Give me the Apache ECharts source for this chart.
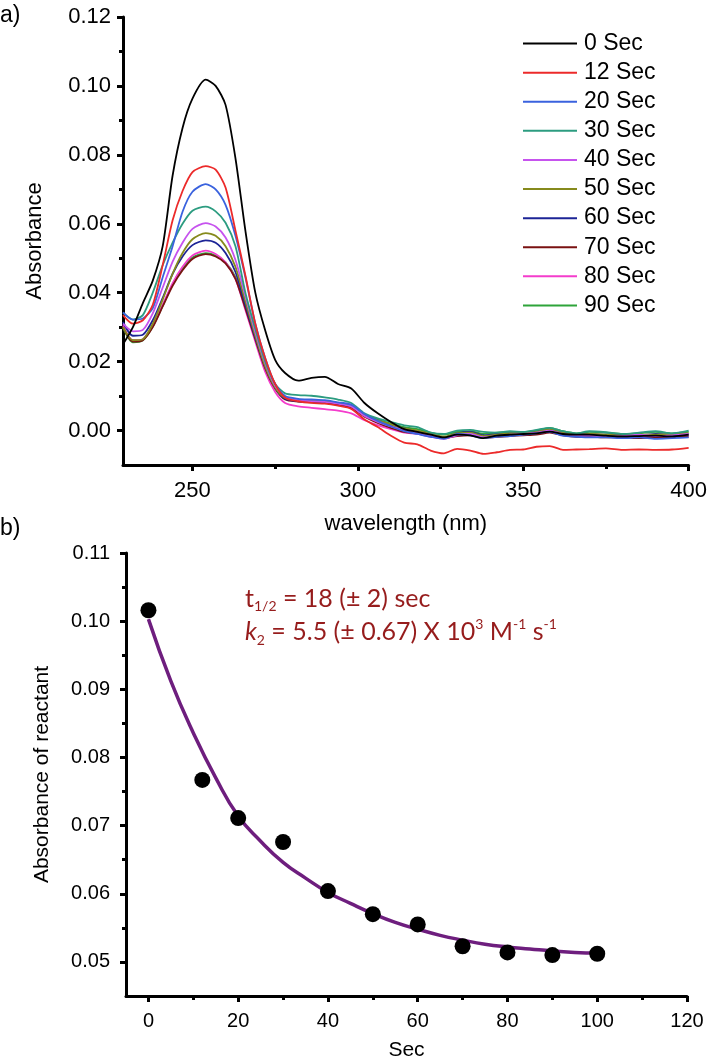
<!DOCTYPE html>
<html><head><meta charset="utf-8">
<script src="https://cdn.jsdelivr.net/npm/echarts@6/dist/echarts.min.js"></script>
<style>html,body{margin:0;padding:0;background:#fff}#c{width:710px;height:1062px}</style>
</head><body><div id="c"></div>
<script>
// ---------- Panel a: UV-vis spectra ----------
const wavelengths = [229,232,235,238,241,244,247,250,254,257,260,263,266,269,272,275,278,282,286,290,294,298,302,306,310,314,318,322,326,330,334,338,342,346,350,354,358,362,366,370,375,380,385,390,395,400];
const seriesNames = ['0 Sec','12 Sec','20 Sec','30 Sec','40 Sec','50 Sec','60 Sec','70 Sec','80 Sec','90 Sec'];
const seriesColors = ['#000000','#ec2a2a','#3a62de','#2c9c80','#c653ee','#868a1c','#1c2496','#7a1212','#f43ccc','#2ea43a'];
const abs0  = [0.025,0.030,0.037,0.0435,0.0535,0.074,0.0878,0.0963,0.1018,0.1000,0.0945,0.079,0.058,0.040,0.029,0.0205,0.0167,0.0145,0.0153,0.0156,0.0135,0.0122,0.0080,0.0050,0.0025,0.0004,-0.0004,-0.0012,-0.0020,-0.0012,-0.0014,-0.0022,-0.0015,-0.0012,-0.0010,-0.0008,-0.0003,-0.0010,-0.0012,-0.0012,-0.0015,-0.0017,-0.0016,-0.0015,-0.0017,-0.0012];
const abs12 = [0.0335,0.031,0.032,0.0365,0.048,0.061,0.0695,0.075,0.0767,0.0757,0.0705,0.058,0.045,0.031,0.021,0.0135,0.0095,0.0085,0.0080,0.0078,0.0072,0.0063,0.0032,0.0010,-0.0015,-0.0035,-0.0040,-0.0058,-0.0066,-0.0053,-0.0058,-0.0068,-0.0063,-0.0056,-0.0055,-0.0047,-0.0045,-0.0056,-0.0055,-0.0054,-0.0052,-0.0056,-0.0055,-0.0056,-0.0055,-0.0050];
const abs20 = [0.0343,0.0322,0.0325,0.0355,0.0445,0.0535,0.0635,0.0693,0.0715,0.0700,0.0655,0.0565,0.0445,0.031,0.021,0.0135,0.0100,0.0092,0.0090,0.0088,0.0082,0.0075,0.0048,0.0028,0.0012,-0.0002,-0.0010,-0.0018,-0.0024,-0.0010,-0.0014,-0.0022,-0.0018,-0.0016,-0.0012,-0.0008,-0.0004,-0.0015,-0.0018,-0.0020,-0.0020,-0.0022,-0.0020,-0.0024,-0.0022,-0.0020];
const abs30 = [0.0342,0.0322,0.0335,0.0400,0.0480,0.0545,0.0600,0.0638,0.0650,0.0636,0.0603,0.0535,0.0400,0.0295,0.0200,0.0135,0.0108,0.0103,0.0101,0.0096,0.0090,0.0080,0.0050,0.0035,0.0025,0.0015,0.0010,-0.0006,-0.0010,0.0000,0.0002,-0.0004,-0.0006,-0.0002,-0.0004,0.0002,0.0008,-0.0002,-0.0008,-0.0002,-0.0005,-0.0010,-0.0006,-0.0002,-0.0008,0.0000];
const abs40 = [0.031,0.0288,0.0292,0.034,0.0415,0.049,0.0545,0.0585,0.0602,0.0592,0.0560,0.0495,0.0390,0.0285,0.0195,0.0130,0.0098,0.0088,0.0085,0.0083,0.0078,0.0070,0.0042,0.0025,0.0012,0.0000,-0.0008,-0.0016,-0.0022,-0.0014,-0.0010,-0.0020,-0.0016,-0.0012,-0.0010,-0.0006,0.0000,-0.0010,-0.0016,-0.0015,-0.0018,-0.0016,-0.0012,-0.0016,-0.0014,-0.0010];
const abs50 = [0.030,0.0262,0.0265,0.031,0.038,0.0455,0.0515,0.0555,0.0573,0.0565,0.0535,0.0475,0.0375,0.0275,0.0185,0.0125,0.0095,0.0088,0.0086,0.0085,0.0080,0.0072,0.0045,0.0030,0.0018,0.0006,0.0000,-0.0010,-0.0018,-0.0008,-0.0006,-0.0016,-0.0012,-0.0008,-0.0008,-0.0004,0.0004,-0.0006,-0.0012,-0.0010,-0.0012,-0.0014,-0.0012,-0.0012,-0.0010,-0.0008];
const abs60 = [0.0315,0.0275,0.0278,0.032,0.0385,0.0455,0.0505,0.0538,0.0552,0.0545,0.0515,0.0460,0.0365,0.0270,0.0185,0.0125,0.0092,0.0085,0.0084,0.0082,0.0078,0.0070,0.0045,0.0030,0.0016,0.0006,-0.0002,-0.0010,-0.0020,-0.0008,-0.0004,-0.0014,-0.0010,-0.0008,-0.0008,-0.0004,0.0002,-0.0006,-0.0010,-0.0010,-0.0012,-0.0012,-0.0014,-0.0010,-0.0012,-0.0012];
const abs70 = [0.0300,0.0258,0.0262,0.030,0.036,0.042,0.0465,0.0498,0.0512,0.0505,0.0485,0.0440,0.0355,0.0265,0.0180,0.0122,0.0090,0.0084,0.0082,0.0080,0.0075,0.0066,0.0040,0.0022,0.0008,-0.0004,-0.0008,-0.0016,-0.0022,-0.0016,-0.0014,-0.0022,-0.0018,-0.0016,-0.0014,-0.0012,-0.0006,-0.0014,-0.0018,-0.0018,-0.0020,-0.0020,-0.0022,-0.0020,-0.0018,-0.0018];
const abs80 = [0.0305,0.0262,0.0265,0.0305,0.0365,0.0428,0.0475,0.0508,0.0522,0.0512,0.0488,0.0440,0.0350,0.0258,0.0170,0.0112,0.0080,0.0070,0.0066,0.0062,0.0058,0.0050,0.0030,0.0016,0.0004,-0.0006,-0.0010,-0.0018,-0.0024,-0.0014,-0.0012,-0.0020,-0.0016,-0.0012,-0.0010,-0.0006,0.0000,-0.0010,-0.0016,-0.0016,-0.0016,-0.0018,-0.0016,-0.0018,-0.0016,-0.0014];
const abs90 = [0.0298,0.0256,0.0262,0.0302,0.0362,0.0425,0.0470,0.0502,0.0515,0.0508,0.0488,0.0445,0.0358,0.0268,0.0182,0.0124,0.0092,0.0086,0.0084,0.0082,0.0078,0.0070,0.0046,0.0032,0.0020,0.0010,0.0004,-0.0006,-0.0012,-0.0004,-0.0002,-0.0010,-0.0006,-0.0004,-0.0004,0.0000,0.0008,-0.0002,-0.0008,-0.0004,-0.0006,-0.0010,-0.0008,-0.0004,-0.0008,-0.0004];
const spectra = [abs0,abs12,abs20,abs30,abs40,abs50,abs60,abs70,abs80,abs90];
const specXTicks = [250,300,350,400];
const specXMinor = [275,325,375];
const specYTicks = [0,0.02,0.04,0.06,0.08,0.10,0.12];
const specYMinor = [0.01,0.03,0.05,0.07,0.09,0.11];

// ---------- Panel b: kinetics ----------
const times = [0,12,20,30,40,50,60,70,80,90,100];
const reactantAbs = [0.1016,0.0767,0.0711,0.0676,0.0604,0.0570,0.0555,0.0523,0.0514,0.0510,0.0512];
const fitTimes = [0,5,10,15,20,25,30,35,40,45,50,55,60,65,70,75,80,85,90,95,100];
const fitAbs = [0.1003,0.0912,0.0836,0.0770,0.0714,0.0677,0.0646,0.0623,0.0602,0.0586,0.0571,0.0558,0.0548,0.0539,0.0532,0.0526,0.0522,0.0519,0.0516,0.0514,0.0513];
const kinXTicks = [0,20,40,60,80,100,120];
const kinXMinor = [10,30,50,70,90,110];
const kinYTicks = [0.05,0.06,0.07,0.08,0.09,0.10,0.11];
const kinYMinor = [0.055,0.065,0.075,0.085,0.095,0.105];

const FONT = "'Liberation Sans', Arial, sans-serif";
const axisLine = {show:true, onZero:false, lineStyle:{color:'#000', width:3}};

function mainAxis(opts, ticks, fmt, fontSize, margin){
  return Object.assign({
    type:'value', axisLine: axisLine, splitLine:{show:false},
    axisTick:{show:true, inside:false, length:6, customValues:ticks, lineStyle:{color:'#000', width:3}},
    axisLabel:{show:true, customValues:ticks, formatter:fmt, color:'#000', fontFamily:FONT, fontSize:fontSize, margin:margin}
  }, opts);
}
function minorAxis(opts, ticks){
  return Object.assign({
    type:'value', axisLine:{show:false, onZero:false}, splitLine:{show:false},
    axisTick:{show:true, inside:false, length:4, customValues:ticks, lineStyle:{color:'#000', width:3}},
    axisLabel:{show:false}
  }, opts);
}
const fmt2 = v => v.toFixed(2);
const fmt0 = v => String(Math.round(v));

const chart = echarts.init(document.getElementById('c'), null, {renderer:'canvas'});
const series = spectra.map((arr, i) => ({
  name: seriesNames[i], type:'line', xAxisIndex:0, yAxisIndex:0,
  data: wavelengths.map((w, j) => [w, arr[j]]),
  symbol:'none', smooth:0.25, color: seriesColors[i],
  lineStyle:{width:1.8, color: seriesColors[i]}, z: 20 - i
}));
series.push({
  name:'fit', type:'line', xAxisIndex:2, yAxisIndex:2,
  data: fitTimes.map((t, j) => [t, fitAbs[j]]),
  symbol:'none', smooth:true, lineStyle:{width:3.5, color:'#6e1e7e'}, z:5
});
series.push({
  name:'data', type:'scatter', xAxisIndex:2, yAxisIndex:2,
  data: times.map((t, j) => [t, reactantAbs[j]]),
  symbol:'circle', symbolSize:16, itemStyle:{color:'#000', opacity:1}, z:10
});

chart.setOption({
  animation:false,
  backgroundColor:'#fff',
  grid:[
    {left:123, right:19, top:17, height:448},
    {left:126, right:23, top:553, height:447}
  ],
  xAxis:[
    mainAxis({gridIndex:0, min:229, max:400, position:'bottom', name:'wavelength (nm)', nameLocation:'middle', nameGap:48,
      nameTextStyle:{fontFamily:FONT, fontSize:22, color:'#000'}}, specXTicks, fmt0, 22, 15),
    minorAxis({gridIndex:0, min:229, max:400, position:'bottom'}, specXMinor),
    mainAxis({gridIndex:1, min:-5, max:120, position:'bottom', name:'Sec', nameLocation:'middle', nameGap:44,
      nameTextStyle:{fontFamily:FONT, fontSize:21, color:'#000'}}, kinXTicks, fmt0, 20, 15),
    minorAxis({gridIndex:1, min:-5, max:120, position:'bottom'}, kinXMinor)
  ],
  yAxis:[
    mainAxis({gridIndex:0, min:-0.01, max:0.12, position:'left', name:'Absorbance', nameLocation:'middle', nameGap:77,
      nameTextStyle:{fontFamily:FONT, fontSize:22, color:'#000'}}, specYTicks, fmt2, 22, 12),
    minorAxis({gridIndex:0, min:-0.01, max:0.12, position:'left'}, specYMinor),
    mainAxis({gridIndex:1, min:0.045, max:0.11, position:'left', name:'Absorbance of reactant', nameLocation:'middle', nameGap:73,
      nameTextStyle:{fontFamily:FONT, fontSize:21, color:'#000'}}, kinYTicks, fmt2, 20, 16),
    minorAxis({gridIndex:1, min:0.045, max:0.11, position:'left'}, kinYMinor)
  ],
  legend:{
    data: seriesNames, orient:'vertical', left:523, top:32, padding:0,
    icon:'rect', itemWidth:54, itemHeight:2, itemGap:6,
    textStyle:{fontFamily:FONT, fontSize:23, color:'#000', lineHeight:23.1, padding:[0,0,0,2]},
    selectedMode:false
  },
  graphic:[
    {type:'text', left:0, top:4, style:{text:'a)', fontFamily:FONT, fontSize:23, fill:'#000'}},
    {type:'text', left:0, top:517, style:{text:'b)', fontFamily:FONT, fontSize:23, fill:'#000'}},
    {type:'text', left:245, top:586, style:{
      text:'{m|t}{sub|1/2}{m| = 18 (± 2) sec}',
      rich:{
        m:{fontFamily:'Lato, sans-serif', fontSize:25, fill:'#961c1c', lineHeight:30},
        sub:{fontFamily:'Lato, sans-serif', fontSize:14, fill:'#961c1c', lineHeight:18, verticalAlign:'bottom'}
      }}},
    {type:'text', left:245, top:617, style:{
      text:'{i|k}{sub|2}{m| = 5.5 (± 0.67) X 10}{sup|3}{m| M}{sup|-1}{m| s}{sup|-1}',
      rich:{
        m:{fontFamily:'Lato, sans-serif', fontSize:25, fill:'#961c1c', lineHeight:30},
        i:{fontFamily:'Lato, sans-serif', fontSize:25, fontStyle:'italic', fill:'#961c1c', lineHeight:30},
        sub:{fontFamily:'Lato, sans-serif', fontSize:14, fill:'#961c1c', lineHeight:18, verticalAlign:'bottom'},
        sup:{fontFamily:'Lato, sans-serif', fontSize:14, fill:'#961c1c', lineHeight:18, verticalAlign:'top'}
      }}}
  ],
  series: series
});
</script></body></html>
